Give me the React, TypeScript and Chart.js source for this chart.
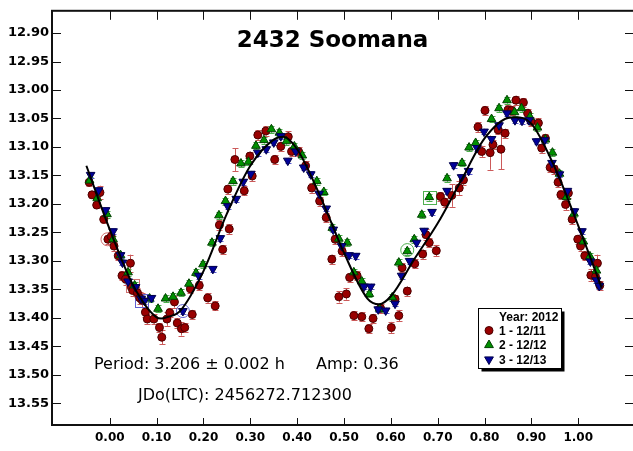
import { useEffect, useRef } from 'react';
import { Chart, registerables } from 'chart.js';
Chart.register(...registerables);

// ---------- DATA ----------
const titleText = '2432 Soomana';
const periodText = 'Period: 3.206 ± 0.002 h';
const ampText = 'Amp: 0.36';
const jdText = 'JDo(LTC): 2456272.712300';
const legendTitle = 'Year: 2012';
const seriesNames = ['1 - 12/11', '2 - 12/12', '3 - 12/13'];

const xTickValues = [0, 0.1, 0.2, 0.3, 0.4, 0.5, 0.6, 0.7, 0.8, 0.9, 1.0];
const yTickValues = [12.9, 12.95, 13.0, 13.05, 13.1, 13.15, 13.2, 13.25, 13.3, 13.35, 13.4, 13.45, 13.5, 13.55];

// [phase, mag, error]
const red: number[][] = [
  [-0.044, 13.162, 0.006], [-0.038, 13.184, 0.006], [-0.028, 13.202, 0.006], [-0.021, 13.18, 0.012],
  [-0.013, 13.227, 0.006], [-0.004, 13.262, 0.008], [0.003, 13.257, 0.008], [0.009, 13.274, 0.008],
  [0.018, 13.291, 0.008], [0.026, 13.326, 0.008], [0.034, 13.332, 0.01], [0.044, 13.304, 0.015],
  [0.046, 13.346, 0.008], [0.049, 13.352, 0.01], [0.059, 13.356, 0.008], [0.064, 13.365, 0.01],
  [0.069, 13.369, 0.012], [0.076, 13.39, 0.008], [0.08, 13.402, 0.008], [0.094, 13.402, 0.008],
  [0.106, 13.417, 0.008], [0.111, 13.434, 0.012], [0.122, 13.402, 0.012], [0.128, 13.391, 0.008],
  [0.138, 13.372, 0.01], [0.144, 13.409, 0.008], [0.153, 13.419, 0.012], [0.16, 13.417, 0.008],
  [0.172, 13.349, 0.008], [0.176, 13.394, 0.008], [0.191, 13.343, 0.008], [0.209, 13.365, 0.008],
  [0.225, 13.379, 0.008], [0.234, 13.237, 0.008], [0.241, 13.28, 0.008], [0.252, 13.174, 0.008],
  [0.255, 13.244, 0.008], [0.267, 13.122, 0.02], [0.287, 13.177, 0.008], [0.299, 13.116, 0.008],
  [0.304, 13.151, 0.008], [0.316, 13.079, 0.008], [0.333, 13.072, 0.008], [0.352, 13.122, 0.008],
  [0.365, 13.099, 0.008], [0.381, 13.082, 0.01], [0.388, 13.108, 0.008], [0.403, 13.108, 0.008],
  [0.418, 13.133, 0.008], [0.431, 13.172, 0.008], [0.448, 13.195, 0.008], [0.462, 13.224, 0.008],
  [0.474, 13.297, 0.008], [0.481, 13.262, 0.008], [0.489, 13.363, 0.01], [0.496, 13.283, 0.008],
  [0.505, 13.358, 0.01], [0.512, 13.329, 0.008], [0.521, 13.396, 0.008], [0.528, 13.326, 0.008],
  [0.538, 13.398, 0.008], [0.553, 13.419, 0.008], [0.562, 13.401, 0.008], [0.578, 13.383, 0.008],
  [0.601, 13.417, 0.01], [0.609, 13.367, 0.008], [0.617, 13.396, 0.01], [0.624, 13.312, 0.008],
  [0.635, 13.353, 0.008], [0.651, 13.305, 0.008], [0.668, 13.288, 0.008], [0.675, 13.254, 0.01],
  [0.682, 13.268, 0.008], [0.697, 13.282, 0.01], [0.706, 13.187, 0.008], [0.715, 13.197, 0.008],
  [0.73, 13.185, 0.02], [0.746, 13.172, 0.012], [0.755, 13.158, 0.008], [0.786, 13.065, 0.008],
  [0.794, 13.108, 0.01], [0.801, 13.036, 0.008], [0.812, 13.11, 0.03], [0.818, 13.096, 0.008],
  [0.829, 13.07, 0.008], [0.835, 13.104, 0.035], [0.844, 13.076, 0.008], [0.85, 13.035, 0.008],
  [0.858, 13.036, 0.008], [0.867, 13.018, 0.008], [0.883, 13.022, 0.008], [0.892, 13.041, 0.008],
  [0.899, 13.055, 0.008], [0.915, 13.058, 0.008], [0.922, 13.102, 0.008], [0.93, 13.085, 0.008],
  [0.94, 13.136, 0.008], [0.949, 13.139, 0.008], [0.957, 13.162, 0.008], [0.963, 13.184, 0.008],
  [0.973, 13.201, 0.01], [0.979, 13.181, 0.008], [0.987, 13.227, 0.008], [0.999, 13.262, 0.008],
  [1.005, 13.274, 0.008], [1.014, 13.291, 0.008], [1.027, 13.325, 0.01], [1.037, 13.328, 0.008],
  [1.041, 13.304, 0.015], [1.046, 13.343, 0.008],
];

const green: number[][] = [
  [-0.043, 13.159, 0.006], [-0.027, 13.19, 0.006], [-0.006, 13.218, 0.006], [0.007, 13.262, 0.006],
  [0.023, 13.29, 0.006], [0.039, 13.32, 0.006], [0.053, 13.343, 0.006], [0.085, 13.366, 0.006],
  [0.103, 13.384, 0.006], [0.119, 13.366, 0.006], [0.135, 13.363, 0.006], [0.152, 13.356, 0.006],
  [0.169, 13.34, 0.006], [0.184, 13.321, 0.006], [0.199, 13.306, 0.006], [0.218, 13.268, 0.006],
  [0.233, 13.22, 0.006], [0.247, 13.195, 0.006], [0.263, 13.16, 0.006], [0.28, 13.129, 0.006],
  [0.296, 13.126, 0.006], [0.312, 13.098, 0.006], [0.329, 13.088, 0.006], [0.345, 13.069, 0.006],
  [0.362, 13.075, 0.006], [0.377, 13.09, 0.006], [0.394, 13.099, 0.006], [0.411, 13.115, 0.006],
  [0.442, 13.16, 0.006], [0.457, 13.179, 0.006], [0.475, 13.242, 0.006], [0.489, 13.261, 0.006],
  [0.507, 13.268, 0.006], [0.521, 13.32, 0.006], [0.538, 13.336, 0.006], [0.554, 13.358, 0.006],
  [0.576, 13.384, 0.006], [0.603, 13.364, 0.006], [0.617, 13.303, 0.006], [0.635, 13.283, 0.006],
  [0.65, 13.262, 0.006], [0.666, 13.219, 0.006], [0.682, 13.188, 0.006], [0.72, 13.155, 0.006],
  [0.752, 13.128, 0.006], [0.767, 13.101, 0.006], [0.781, 13.093, 0.006], [0.815, 13.051, 0.006],
  [0.831, 13.032, 0.006], [0.848, 13.018, 0.006], [0.864, 13.039, 0.006], [0.879, 13.032, 0.006],
  [0.897, 13.047, 0.006], [0.913, 13.066, 0.006], [0.93, 13.087, 0.006], [0.945, 13.11, 0.006],
  [0.96, 13.147, 0.006], [0.975, 13.188, 0.006], [0.991, 13.217, 0.006], [1.011, 13.266, 0.006],
  [1.025, 13.292, 0.006], [1.039, 13.317, 0.006],
];

const blue: number[][] = [
  [-0.041, 13.149, 0.005], [-0.024, 13.176, 0.005], [-0.009, 13.211, 0.005], [0.007, 13.248, 0.005],
  [0.023, 13.29, 0.005], [0.027, 13.303, 0.005], [0.039, 13.336, 0.005], [0.055, 13.346, 0.005],
  [0.067, 13.366, 0.005], [0.074, 13.37, 0.005], [0.089, 13.365, 0.005], [0.156, 13.388, 0.005],
  [0.19, 13.326, 0.005], [0.22, 13.314, 0.005], [0.236, 13.26, 0.005], [0.252, 13.204, 0.005],
  [0.27, 13.191, 0.005], [0.285, 13.161, 0.005], [0.301, 13.147, 0.005], [0.316, 13.11, 0.005],
  [0.334, 13.104, 0.005], [0.35, 13.092, 0.005], [0.365, 13.081, 0.005], [0.38, 13.124, 0.005],
  [0.397, 13.108, 0.005], [0.414, 13.136, 0.005], [0.429, 13.148, 0.005], [0.447, 13.182, 0.005],
  [0.462, 13.208, 0.005], [0.477, 13.245, 0.005], [0.495, 13.274, 0.005], [0.511, 13.29, 0.005],
  [0.525, 13.291, 0.005], [0.543, 13.345, 0.005], [0.557, 13.345, 0.005], [0.573, 13.385, 0.005],
  [0.589, 13.387, 0.005], [0.609, 13.375, 0.005], [0.623, 13.326, 0.005], [0.64, 13.3, 0.005],
  [0.655, 13.268, 0.005], [0.671, 13.247, 0.005], [0.688, 13.214, 0.005], [0.72, 13.177, 0.005],
  [0.734, 13.132, 0.005], [0.751, 13.153, 0.005], [0.766, 13.142, 0.005], [0.784, 13.102, 0.005],
  [0.799, 13.073, 0.005], [0.815, 13.086, 0.005], [0.831, 13.062, 0.005], [0.848, 13.041, 0.005],
  [0.865, 13.053, 0.005], [0.88, 13.054, 0.005], [0.895, 13.053, 0.005], [0.911, 13.09, 0.005],
  [0.928, 13.088, 0.005], [0.944, 13.128, 0.005], [0.96, 13.148, 0.005], [0.977, 13.177, 0.005],
  [0.992, 13.213, 0.005], [1.008, 13.248, 0.005], [1.026, 13.301, 0.005], [1.039, 13.334, 0.005],
  [1.045, 13.344, 0.005],
];

// fitted curve
const curvePhase = [-0.05, 0, 0.05, 0.1, 0.11, 0.125, 0.15, 0.2, 0.25, 0.3, 0.35, 0.37, 0.4, 0.45, 0.5, 0.55, 0.575, 0.6, 0.65, 0.7, 0.75, 0.8, 0.85, 0.865, 0.9, 0.95, 1.0, 1.05];
const curveMag = [13.133, 13.245, 13.343, 13.399, 13.401, 13.398, 13.388, 13.318, 13.217, 13.133, 13.087, 13.082, 13.104, 13.188, 13.286, 13.366, 13.376, 13.362, 13.297, 13.234, 13.159, 13.085, 13.049, 13.048, 13.059, 13.136, 13.238, 13.347];

// first-point markers: [phase, mag, seriesIndex]
const ringMarks: number[][] = [[-0.005, 13.262, 0], [0.156, 13.388, 2], [0.635, 13.281, 1]];
const boxMarks: number[][] = [[0.049, 13.343, 0], [0.068, 13.369, 2], [0.682, 13.188, 1]];

// ---------- STYLE ----------
const X_MIN = -0.1234, X_MAX = 1.1191, Y_MIN = 12.861, Y_MAX = 13.588;
const fills = ['#990000', '#009000', '#000099'];
const borders = ['#4a0000', '#004000', '#00004a'];
const errColors = ['#cc5a5a', '#4cb04c', '#5a5acc'];
const markColors = ['#d07070', '#50b050', '#6060d0'];
const FONT = '"DejaVu Sans", sans-serif';

function drawMarker(ctx: CanvasRenderingContext2D, kind: number, x: number, y: number) {
  ctx.save();
  ctx.fillStyle = fills[kind];
  ctx.strokeStyle = borders[kind];
  ctx.lineWidth = 1;
  ctx.beginPath();
  if (kind === 0) {
    ctx.arc(x, y, 4, 0, Math.PI * 2);
  } else if (kind === 1) {
    ctx.moveTo(x, y - 5); ctx.lineTo(x + 4.4, y + 2.6); ctx.lineTo(x - 4.4, y + 2.6); ctx.closePath();
  } else {
    ctx.moveTo(x, y + 5); ctx.lineTo(x + 4.4, y - 2.6); ctx.lineTo(x - 4.4, y - 2.6); ctx.closePath();
  }
  ctx.fill(); ctx.stroke();
  ctx.restore();
}

const seriesList = [red, green, blue];

const errorBarPlugin = {
  id: 'errorBars',
  beforeDatasetsDraw(chart: any) {
    const { ctx, chartArea } = chart;
    const xs = chart.scales.x, ys = chart.scales.y;
    ctx.save();
    ctx.beginPath();
    ctx.rect(chartArea.left, chartArea.top, chartArea.right - chartArea.left, chartArea.bottom - chartArea.top);
    ctx.clip();
    ctx.lineWidth = 1;
    seriesList.forEach((s, k) => {
      ctx.strokeStyle = errColors[k];
      s.forEach((p) => {
        const x = Math.round(xs.getPixelForValue(p[0])) + 0.5;
        const y1 = ys.getPixelForValue(p[1] - p[2]);
        const y2 = ys.getPixelForValue(p[1] + p[2]);
        ctx.beginPath();
        ctx.moveTo(x, y1); ctx.lineTo(x, y2);
        ctx.moveTo(x - 3, Math.round(y1) + 0.5); ctx.lineTo(x + 3, Math.round(y1) + 0.5);
        ctx.moveTo(x - 3, Math.round(y2) + 0.5); ctx.lineTo(x + 3, Math.round(y2) + 0.5);
        ctx.stroke();
      });
    });
    ringMarks.forEach((m) => {
      ctx.strokeStyle = markColors[m[2]];
      ctx.beginPath();
      ctx.arc(xs.getPixelForValue(m[0]), ys.getPixelForValue(m[1]), 6.5, 0, Math.PI * 2);
      ctx.stroke();
    });
    boxMarks.forEach((m) => {
      ctx.strokeStyle = markColors[m[2]];
      const x = xs.getPixelForValue(m[0]), y = ys.getPixelForValue(m[1]);
      ctx.strokeRect(Math.round(x - 6.5) + 0.5, Math.round(y - 6.5) + 0.5, 13, 13);
    });
    ctx.restore();
  },
};

const decorPlugin = {
  id: 'decor',
  afterDraw(chart: any) {
    const { ctx, chartArea } = chart;
    const xs = chart.scales.x, ys = chart.scales.y;
    const { left, right, top, bottom } = chartArea;
    ctx.save();
    ctx.strokeStyle = '#111';
    ctx.lineWidth = 2;
    ctx.strokeRect(left, top, right - left, bottom - top);
    ctx.lineWidth = 1;
    ctx.beginPath();
    xTickValues.forEach((v) => {
      const x = Math.round(xs.getPixelForValue(v)) + 0.5;
      ctx.moveTo(x, top); ctx.lineTo(x, top + 9);
      ctx.moveTo(x, bottom); ctx.lineTo(x, bottom - 7);
    });
    yTickValues.forEach((v) => {
      const y = Math.round(ys.getPixelForValue(v)) + 0.5;
      ctx.moveTo(left, y); ctx.lineTo(left + 9, y);
      ctx.moveTo(right, y); ctx.lineTo(right - 9, y);
    });
    ctx.stroke();

    ctx.fillStyle = '#000';
    ctx.textBaseline = 'alphabetic';
    ctx.textAlign = 'center';
    ctx.font = `bold 23px ${FONT}`;
    ctx.fillText(titleText, 332.5, 47);

    ctx.textAlign = 'left';
    ctx.font = `16px ${FONT}`;
    ctx.fillText(periodText, 94, 369);
    ctx.fillText(ampText, 316, 369);
    ctx.fillText(jdText, 138, 400);

    const bx = 478.5, by = 308.5, bw = 83, bh = 60;
    ctx.fillStyle = '#000';
    ctx.fillRect(bx + 3, by + 3, bw, bh);
    ctx.fillStyle = '#fff';
    ctx.fillRect(bx, by, bw, bh);
    ctx.strokeStyle = '#000';
    ctx.lineWidth = 1;
    ctx.strokeRect(bx, by, bw, bh);
    ctx.fillStyle = '#000';
    ctx.font = `bold 12px "Liberation Sans", Arial, sans-serif`;
    ctx.fillText(legendTitle, 499, 320.5);
    const rowsY = [334.5, 349, 363.5];
    seriesNames.forEach((name, k) => {
      drawMarker(ctx, k, 489, rowsY[k] - 4);
      ctx.fillStyle = '#000';
      ctx.fillText(name, 499, rowsY[k]);
    });
    ctx.restore();
  },
};

export default function App() {
  const ref = useRef<HTMLCanvasElement>(null);
  useEffect(() => {
    const canvas = ref.current!;
    const toPts = (s: number[][]) => s.map((p) => ({ x: p[0], y: p[1] }));
    const chart = new Chart(canvas, {
      type: 'scatter',
      data: {
        datasets: [
          {
            label: 'fit',
            data: curvePhase.map((x, i) => ({ x, y: curveMag[i] })),
            showLine: true,
            borderColor: '#000',
            borderWidth: 2,
            pointRadius: 0,
            cubicInterpolationMode: 'monotone',
            order: 0,
          } as any,
          {
            label: seriesNames[2],
            data: toPts(blue),
            pointStyle: 'triangle',
            rotation: 180,
            radius: 5,
            backgroundColor: fills[2],
            borderColor: borders[2],
            borderWidth: 1,
            order: 1,
          } as any,
          {
            label: seriesNames[1],
            data: toPts(green),
            pointStyle: 'triangle',
            radius: 5,
            backgroundColor: fills[1],
            borderColor: borders[1],
            borderWidth: 1,
            order: 2,
          } as any,
          {
            label: seriesNames[0],
            data: toPts(red),
            pointStyle: 'circle',
            radius: 4,
            backgroundColor: fills[0],
            borderColor: borders[0],
            borderWidth: 1,
            order: 3,
          } as any,
        ],
      },
      options: {
        responsive: false,
        animation: false,
        devicePixelRatio: 1,
        events: [],
        layout: { padding: { top: 5, right: 4, left: 0, bottom: 0 } },
        plugins: { legend: { display: false }, tooltip: { enabled: false }, title: { display: false } },
        scales: {
          x: {
            type: 'linear',
            min: X_MIN,
            max: X_MAX,
            grid: { display: false, drawTicks: false },
            border: { display: false },
            ticks: {
              stepSize: 0.1,
              includeBounds: false,
              autoSkip: false,
              maxRotation: 0,
              padding: 6,
              color: '#000',
              font: { family: 'DejaVu Sans', weight: 'bold', size: 12 },
              callback: (v: any) => (v < -0.001 || v > 1.001 ? '' : Number(v).toFixed(2)),
            },
            afterFit: (s: any) => { s.height = 26; },
          },
          y: {
            type: 'linear',
            reverse: true,
            min: Y_MIN,
            max: Y_MAX,
            grid: { display: false, drawTicks: false },
            border: { display: false },
            ticks: {
              stepSize: 0.05,
              includeBounds: false,
              autoSkip: false,
              padding: 3,
              color: '#000',
              font: { family: 'DejaVu Sans', weight: 'bold', size: 13 },
              callback: (v: any) => Number(v).toFixed(2),
            },
            afterFit: (s: any) => { s.width = 52; },
          },
        },
      } as any,
      plugins: [errorBarPlugin, decorPlugin],
    });
    return () => chart.destroy();
  }, []);
  return (
    <div style={{ position: 'fixed', left: 0, top: 0, width: 633, height: 451, overflow: 'hidden', background: '#fff' }}>
      <canvas ref={ref} width={640} height={451} style={{ display: 'block', width: 640, height: 451 }} />
    </div>
  );
}
